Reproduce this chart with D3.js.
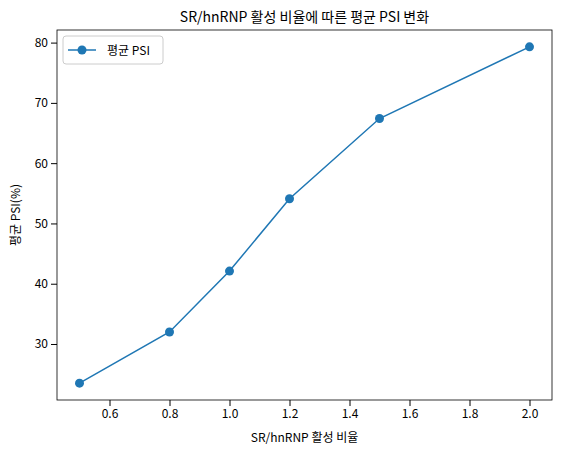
<!DOCTYPE html>
<html><head><meta charset="utf-8">
<script src="https://cdn.jsdelivr.net/npm/d3@7"></script>
<style>body{margin:0;background:#fff}text{font-family:"Noto Sans CJK KR","Noto Sans",sans-serif}</style>
</head><body>
<script>
var ratios = [0.5, 0.8, 1.0, 1.2, 1.5, 2.0];
var psi = [23.5, 32.0, 42.1, 54.1, 67.4, 79.3];
var xTicks = [0.6, 0.8, 1.0, 1.2, 1.4, 1.6, 1.8, 2.0];
var yTicks = [30, 40, 50, 60, 70, 80];

var W = 561, H = 455;
var L = 57, R = 552, T = 30, B = 400;
var color = "#1f77b4";

var svg = d3.select("body").append("svg").attr("width", W).attr("height", H);

var x = d3.scaleLinear().domain([0.425, 2.075]).range([L, R]);
var y = d3.scaleLinear().domain([20.71, 82.09]).range([B, T]);

// axes
svg.append("g").attr("transform", "translate(0," + B + ")")
    .call(d3.axisBottom(x).tickValues(xTicks).tickFormat(d3.format(".1f")).tickSizeOuter(0))
    .call(function (g) { g.select(".domain").remove(); g.selectAll("text").attr("font-size", 12).attr("fill", "#000"); });
svg.append("g").attr("transform", "translate(" + L + ",0)")
    .call(d3.axisLeft(y).tickValues(yTicks).tickSizeOuter(0))
    .call(function (g) { g.select(".domain").remove(); g.selectAll("text").attr("font-size", 12).attr("fill", "#000"); });

svg.append("rect").attr("x", L).attr("y", T).attr("width", R - L).attr("height", B - T)
    .attr("fill", "none").attr("stroke", "#000").attr("stroke-width", 0.8);

var pts = ratios.map(function (d, i) { return [d, psi[i]]; });
svg.append("path").datum(pts)
    .attr("d", d3.line().x(function (d) { return x(d[0]); }).y(function (d) { return y(d[1]); }))
    .attr("fill", "none").attr("stroke", color).attr("stroke-width", 1.5);
svg.selectAll("circle.pt").data(pts).enter().append("circle")
    .attr("cx", function (d) { return x(d[0]); }).attr("cy", function (d) { return y(d[1]); })
    .attr("r", 4.5).attr("fill", color);

// labels
svg.append("text").attr("x", (L + R) / 2).attr("y", 22).attr("text-anchor", "middle")
    .attr("font-size", 14).text("SR/hnRNP 활성 비율에 따른 평균 PSI 변화");
svg.append("text").attr("x", (L + R) / 2).attr("y", 442).attr("text-anchor", "middle")
    .attr("font-size", 12).text("SR/hnRNP 활성 비율");
svg.append("text").attr("transform", "translate(20," + (T + B) / 2 + ") rotate(-90)")
    .attr("text-anchor", "middle").attr("font-size", 12).text("평균 PSI(%)");

// legend
var lg = svg.append("g");
lg.append("rect").attr("x", 63).attr("y", 36).attr("width", 100).attr("height", 28).attr("rx", 3)
    .attr("fill", "#fff").attr("stroke", "#ccc");
lg.append("line").attr("x1", 68).attr("x2", 96).attr("y1", 50).attr("y2", 50).attr("stroke", color).attr("stroke-width", 1.5);
lg.append("circle").attr("cx", 82).attr("cy", 50).attr("r", 4.5).attr("fill", color);
lg.append("text").attr("x", 107).attr("y", 54.5).attr("font-size", 12).text("평균 PSI");
</script>
</body></html>
